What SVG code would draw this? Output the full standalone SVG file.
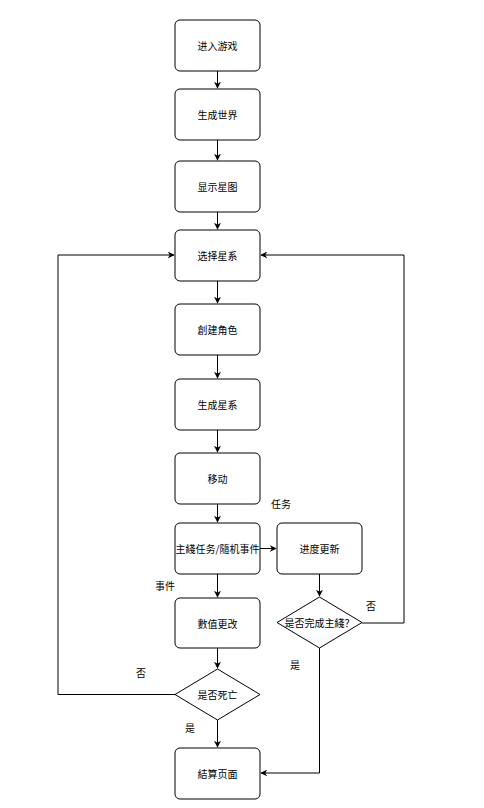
<svg xmlns="http://www.w3.org/2000/svg" width="484" height="808" viewBox="0 0 484 808">
<style>
.n{fill:#fff;stroke:#000;stroke-width:1}
.t{font-family:"Noto Sans CJK SC","Noto Sans CJK TC",sans-serif;font-size:10px;fill:#000;text-anchor:middle;dominant-baseline:central}
.l{font-family:"Noto Sans CJK SC","Noto Sans CJK TC",sans-serif;font-size:10px;fill:#000;text-anchor:middle;dominant-baseline:central}
.c{fill:none;stroke:#000;stroke-width:1}
</style>
<defs>
<marker id="a" viewBox="0 0 10 10" refX="9" refY="5" markerWidth="7" markerHeight="7" orient="auto" markerUnits="userSpaceOnUse">
<path d="M0,0 L10,5 L0,10 L3,5 Z" fill="#000"/>
</marker>
</defs>
<rect width="484" height="808" fill="#fff"/>
<g id="connectors">
<path class="c" d="M217.5,71 V88" marker-end="url(#a)"/>
<path class="c" d="M217.5,140 V160" marker-end="url(#a)"/>
<path class="c" d="M217.5,212 V229" marker-end="url(#a)"/>
<path class="c" d="M217.5,281 V303" marker-end="url(#a)"/>
<path class="c" d="M217.5,355 V378" marker-end="url(#a)"/>
<path class="c" d="M217.5,430 V452" marker-end="url(#a)"/>
<path class="c" d="M217.5,504 V522" marker-end="url(#a)"/>
<path class="c" d="M260,548.5 H276" marker-end="url(#a)"/>
<path class="c" d="M217.5,574 V597" marker-end="url(#a)"/>
<path class="c" d="M319.5,574 V596" marker-end="url(#a)"/>
<path class="c" d="M217.5,648 V668" marker-end="url(#a)"/>
<path class="c" d="M175,694.5 H58 V255 H174" marker-end="url(#a)"/>
<path class="c" d="M362,623 H404 V255 H261" marker-end="url(#a)"/>
<path class="c" d="M319.5,648 V773 H261" marker-end="url(#a)"/>
<path class="c" d="M217.5,720 V747" marker-end="url(#a)"/>
<text class="l" x="281" y="503">任务</text>
<text class="l" x="165" y="585">事件</text>
<text class="l" x="371" y="605">否</text>
<text class="l" x="295" y="664">是</text>
<text class="l" x="141" y="672">否</text>
<text class="l" x="190" y="727">是</text>
</g>
<g id="n1"><rect class="n" x="175" y="20" width="85" height="51" rx="5"/><text class="t" x="217.5" y="45.5">进入游戏</text></g>
<g id="n2"><rect class="n" x="175" y="89" width="85" height="51" rx="5"/><text class="t" x="217.5" y="114.5">生成世界</text></g>
<g id="n3"><rect class="n" x="175" y="161" width="85" height="51" rx="5"/><text class="t" x="217.5" y="186.5">显示星图</text></g>
<g id="n4"><rect class="n" x="175" y="230" width="85" height="51" rx="5"/><text class="t" x="217.5" y="255.5">选择星系</text></g>
<g id="n5"><rect class="n" x="175" y="304" width="85" height="51" rx="5"/><text class="t" x="217.5" y="329.5">創建角色</text></g>
<g id="n6"><rect class="n" x="175" y="379" width="85" height="51" rx="5"/><text class="t" x="217.5" y="404.5">生成星系</text></g>
<g id="n7"><rect class="n" x="175" y="453" width="85" height="51" rx="5"/><text class="t" x="217.5" y="478.5">移动</text></g>
<g id="n8"><rect class="n" x="175" y="523" width="85" height="51" rx="5"/><text class="t" x="217.5" y="548.5">主綫任务/隨机事件</text></g>
<g id="n9"><rect class="n" x="277" y="523" width="85" height="51" rx="5"/><text class="t" x="319.5" y="548.5">进度更新</text></g>
<g id="n10"><polygon class="n" points="319.5,597 362,622.5 319.5,648 277,622.5"/><text class="t" x="319.5" y="622.5">是否完成主綫？</text></g>
<g id="n11"><rect class="n" x="175" y="598" width="85" height="50" rx="5"/><text class="t" x="217.5" y="623">數值更改</text></g>
<g id="n12"><polygon class="n" points="217.5,669 260,694.5 217.5,720 175,694.5"/><text class="t" x="217.5" y="694.5">是否死亡</text></g>
<g id="n13"><rect class="n" x="175" y="748" width="85" height="51" rx="5"/><text class="t" x="217.5" y="773.5">結算页面</text></g>
</svg>
